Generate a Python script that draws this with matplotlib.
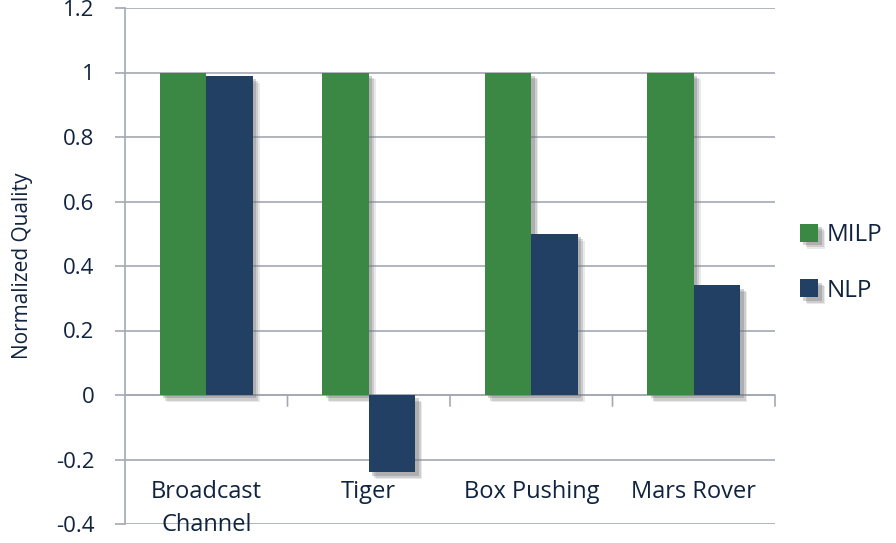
import matplotlib
matplotlib.use("Agg")
import matplotlib.pyplot as plt
import matplotlib.patheffects as pe
import numpy as np

categories = ["Broadcast\nChannel", "Tiger", "Box Pushing", "Mars Rover"]
milp = [1.0, 1.0, 1.0, 1.0]
nlp = [0.99, -0.24, 0.5, 0.34]
series_names = ["MILP", "NLP"]
y_ticks = [-0.4, -0.2, 0, 0.2, 0.4, 0.6, 0.8, 1, 1.2]
y_tick_labels = ["-0.4", "-0.2", "0", "0.2", "0.4", "0.6", "0.8", "1", "1.2"]

GREEN = "#3B8744"
NAVY = "#224064"
GRID = "#A3A8B2"
TEXT = "#10233F"

plt.rcParams["font.family"] = ["Open Sans", "DejaVu Sans"]

fig = plt.figure(figsize=(8.96, 5.43), dpi=100)
ax = fig.add_axes([125 / 896, 1 - 524 / 543, 650 / 896, 516 / 543])

x = np.arange(len(categories))
w = 0.285
# soft drop shadow built from a few offset layers
shadow = [pe.SimplePatchShadow(offset=(5, -5), shadow_rgbFace="#8A8A90", alpha=0.18),
          pe.SimplePatchShadow(offset=(4, -4), shadow_rgbFace="#7A7A80", alpha=0.25),
          pe.SimplePatchShadow(offset=(2.5, -2.5), shadow_rgbFace="#6A6A70", alpha=0.3),
          pe.Normal()]
b1 = ax.bar(x - w / 2, milp, w, color=GREEN, label=series_names[0], zorder=3)
b2 = ax.bar(x + w / 2, nlp, w, color=NAVY, label=series_names[1], zorder=3)
for b in list(b1) + list(b2):
    b.set_path_effects(shadow)

ax.set_xlim(-0.5, len(categories) - 0.5)
ax.set_ylim(-0.4, 1.2)
ax.set_yticks(y_ticks)
ax.set_yticklabels(y_tick_labels)
ax.yaxis.grid(True, color=GRID, linewidth=1.2, zorder=0)
ax.set_axisbelow(True)

for s in ["top", "right", "bottom"]:
    ax.spines[s].set_visible(False)
ax.spines["left"].set_color(GRID)
ax.spines["left"].set_linewidth(1.2)
ax.tick_params(axis="y", colors=GRID, length=7, width=1.2, labelsize=16,
               labelcolor=TEXT, pad=15)
ax.set_xticks([])

# zero baseline with category divider ticks
ax.axhline(0, color=GRID, linewidth=1.2, zorder=2)
for b in np.arange(0.5, len(categories), 1.0):
    ax.annotate("", xy=(b, 0), xycoords="data", xytext=(0, -8),
                textcoords="offset points",
                arrowprops=dict(arrowstyle="-", color=GRID, lw=1.2,
                                shrinkA=0, shrinkB=0))

# category names sit inside the plot area, below the zero line
line_step = 0.103
for xi, lab in zip(x, categories):
    for k, line in enumerate(lab.split("\n")):
        ax.text(xi, -0.319 - k * line_step, line, ha="center", va="baseline",
                fontsize=17, color=TEXT)

ax.set_ylabel("Normalized Quality", fontsize=15, color=TEXT)
ax.yaxis.set_label_coords(-92 / 650, 0.5)

leg = fig.legend(handles=[b1, b2], labels=series_names, loc="center left",
                 bbox_to_anchor=(800 / 896, 1 - 263 / 543), frameon=False,
                 fontsize=17.5, handlelength=0.75, handleheight=0.75,
                 handletextpad=0.35, labelspacing=1.3, borderpad=0,
                 borderaxespad=0)
for t in leg.get_texts():
    t.set_color(TEXT)

fig.savefig("out.png", dpi=100)
